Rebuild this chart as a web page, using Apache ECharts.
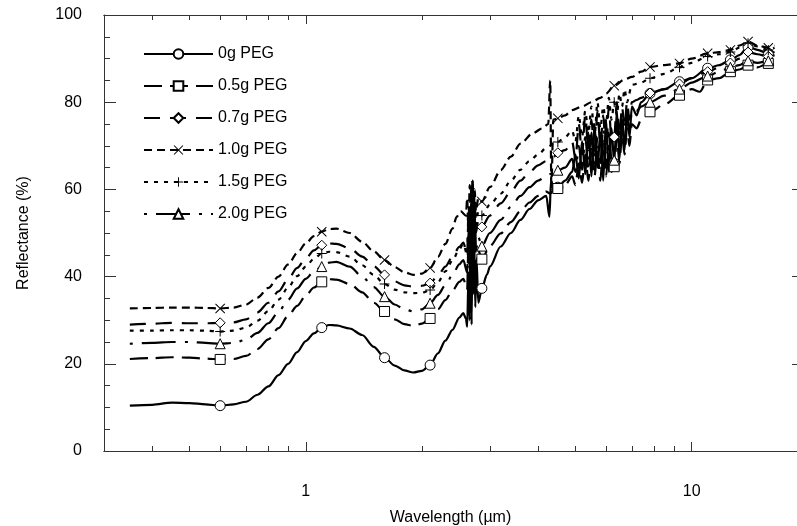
<!DOCTYPE html>
<html lang="en">
<head>
    <meta charset="UTF-8">
    <title>Reflectance vs wavelength</title>
    <style>
        * {
            padding: 0;
            margin: 0;
        }

        #chart {
            width: 797px;
            height: 526px;
            background: #fff;
        }
    </style>
    <script src="https://cdn.jsdelivr.net/npm/echarts@6.0.0/dist/echarts.min.js"></script>
</head>
<body>
<div id="chart"></div>
<script>
    // [wavelength (um), reflectance (%)]
    const peg0 = [[0.35, 10.4], [0.4, 10.6], [0.45, 11.1], [0.5, 11.0], [0.55, 10.7], [0.6, 10.4], [0.65, 10.7], [0.7, 11.3], [0.75, 12.9], [0.8, 14.8], [0.85, 17.4], [0.9, 20.0], [0.95, 22.7], [1.0, 25.2], [1.05, 27.0], [1.1, 28.3], [1.15, 28.9], [1.2, 28.8], [1.3, 28.1], [1.4, 26.6], [1.5, 23.9], [1.6, 21.4], [1.7, 19.6], [1.8, 18.5], [1.9, 18.0], [2.0, 18.4], [2.1, 19.7], [2.2, 22.4], [2.3, 25.3], [2.4, 27.8], [2.5, 30.6], [2.56, 31.6], [2.6, 30.4], [2.62, 28.5], [2.64, 40], [2.66, 30], [2.68, 52], [2.69, 29], [2.71, 56], [2.72, 36], [2.73, 50], [2.75, 33], [2.77, 44], [2.8, 34], [2.86, 37.3], [2.95, 40.5], [3.0, 42.3], [3.2, 46.9], [3.4, 50], [3.6, 53], [3.8, 55.5], [4.0, 57.5], [4.2, 58.5], [4.28, 53.7], [4.32, 62], [4.4, 59.5], [4.5, 60.5], [4.7, 62], [4.9, 64], [5.0, 68], [5.1, 62.5], [5.2, 71], [5.3, 63.5], [5.4, 73], [5.5, 63], [5.6, 75], [5.7, 65], [5.8, 73], [5.9, 62], [6.0, 76], [6.1, 64], [6.2, 74], [6.3, 66], [6.4, 78], [6.5, 67], [6.6, 76], [6.7, 69], [6.8, 78], [6.9, 72], [7.0, 79], [7.2, 77], [7.4, 80], [7.8, 82], [8.5, 83], [9.3, 84.7], [10, 85.5], [11, 87.8], [11.8, 88.5], [12.6, 89.7], [13.3, 90.8], [14, 92.7], [14.8, 92], [15.8, 91.2], [16.4, 91.5]];
    const peg05 = [[0.35, 21.1], [0.4, 21.3], [0.45, 21.5], [0.5, 21.4], [0.55, 21.2], [0.6, 21.0], [0.65, 21.1], [0.7, 21.8], [0.75, 23.4], [0.8, 25.6], [0.85, 28.2], [0.9, 31.0], [0.95, 33.3], [1.0, 35.6], [1.05, 37.5], [1.1, 38.8], [1.15, 39.4], [1.2, 39.3], [1.3, 38.3], [1.4, 36.4], [1.5, 34.0], [1.6, 32.0], [1.7, 30.2], [1.8, 29.1], [1.9, 28.7], [2.0, 29.2], [2.1, 30.4], [2.2, 32.5], [2.3, 34.6], [2.4, 36.8], [2.5, 38.8], [2.56, 39.5], [2.62, 37], [2.64, 48], [2.66, 38], [2.68, 56], [2.69, 39], [2.71, 60], [2.72, 42], [2.74, 55], [2.76, 42], [2.8, 46], [2.86, 44.0], [3.0, 47], [3.2, 49.9], [3.4, 52.5], [3.6, 55], [3.8, 57], [4.0, 58.5], [4.2, 59.5], [4.3, 59], [4.4, 60], [4.5, 60.2], [4.7, 61], [4.9, 63], [5.0, 61], [5.1, 66], [5.2, 61.5], [5.3, 68], [5.4, 62], [5.5, 70], [5.6, 63], [5.7, 69], [5.8, 62], [5.9, 71], [6.0, 63], [6.1, 70], [6.2, 64], [6.3, 65.2], [6.4, 72], [6.5, 66], [6.6, 73], [6.7, 68], [6.8, 74], [6.9, 70], [7.0, 75], [7.2, 74], [7.4, 76], [7.8, 77.8], [8.5, 79.5], [9.3, 81.6], [10, 83], [10.5, 82.4], [11, 85.1], [11.8, 85.5], [12.6, 87.0], [13.3, 87.5], [14, 88.5], [14.8, 88], [15.8, 88.9], [16.4, 88.5]];
    const peg07 = [[0.35, 29.0], [0.4, 29.2], [0.45, 29.4], [0.5, 29.3], [0.55, 29.3], [0.6, 29.4], [0.65, 29.5], [0.7, 30.2], [0.75, 31.8], [0.8, 34.0], [0.85, 36.6], [0.9, 39.4], [0.95, 42.0], [1.0, 44.2], [1.05, 46.0], [1.1, 47.2], [1.15, 47.6], [1.2, 47.5], [1.3, 46.5], [1.4, 44.6], [1.5, 42.4], [1.6, 40.4], [1.7, 38.9], [1.8, 38.0], [1.9, 37.7], [2.0, 37.9], [2.1, 38.5], [2.2, 40.2], [2.3, 42.3], [2.4, 44.6], [2.5, 46.8], [2.56, 47.8], [2.62, 45], [2.64, 55], [2.66, 46], [2.68, 60], [2.69, 47], [2.71, 62], [2.72, 49], [2.74, 58], [2.76, 50], [2.8, 53], [2.86, 51.4], [3.0, 54], [3.2, 56.8], [3.4, 59.5], [3.6, 62], [3.8, 64], [4.0, 65.5], [4.2, 66.5], [4.3, 67], [4.4, 67.5], [4.5, 68.4], [4.7, 69], [4.9, 71], [5.0, 67], [5.1, 75], [5.2, 68], [5.3, 77], [5.4, 69], [5.5, 76], [5.6, 67], [5.7, 78], [5.8, 70], [5.9, 77], [6.0, 68], [6.1, 79], [6.2, 71], [6.3, 72], [6.4, 80], [6.5, 72], [6.6, 79], [6.7, 74], [6.8, 80], [6.9, 76], [7.0, 80], [7.2, 80.5], [7.4, 81], [7.8, 82.1], [8.5, 83], [9.3, 84.2], [10, 85.5], [11, 87], [11.8, 88], [12.6, 89], [13.3, 90], [14, 91.5], [14.8, 91], [15.8, 90.5], [16.4, 90.8]];
    const peg10 = [[0.35, 32.7], [0.4, 32.8], [0.45, 32.9], [0.5, 32.9], [0.55, 32.8], [0.6, 32.7], [0.65, 32.9], [0.7, 33.6], [0.75, 35.2], [0.8, 37.4], [0.85, 40.0], [0.9, 42.8], [0.95, 45.4], [1.0, 47.6], [1.05, 49.3], [1.1, 50.3], [1.15, 50.9], [1.2, 51.0], [1.3, 50.0], [1.4, 48.0], [1.5, 45.8], [1.6, 43.8], [1.7, 42.2], [1.8, 41.0], [1.9, 40.4], [2.0, 40.7], [2.1, 42.0], [2.2, 44.5], [2.3, 47.5], [2.4, 51], [2.46, 53.7], [2.52, 55], [2.6, 54], [2.62, 58], [2.64, 50], [2.66, 61], [2.68, 50], [2.7, 62], [2.72, 52], [2.74, 60], [2.76, 55], [2.8, 58], [2.86, 57.2], [3.0, 60.5], [3.2, 64.4], [3.4, 67.5], [3.6, 70.5], [3.88, 72.9], [4.1, 74], [4.25, 75], [4.3, 85], [4.33, 60], [4.38, 76], [4.5, 76.3], [4.7, 77], [4.9, 78.2], [5.2, 79], [5.5, 80], [5.8, 81], [6.0, 82], [6.3, 83.8], [6.7, 85.2], [7.0, 85.8], [7.4, 87], [7.8, 88.1], [8.5, 88.5], [9.3, 88.9], [10, 90], [11, 91.2], [11.8, 91.5], [12.6, 92.0], [13.3, 93], [14, 93.9], [14.8, 93], [15.8, 92.5], [16.4, 93]];
    const peg15 = [[0.35, 27.6], [0.4, 27.6], [0.45, 27.7], [0.5, 27.7], [0.55, 27.6], [0.6, 27.4], [0.65, 27.6], [0.7, 28.3], [0.75, 29.9], [0.8, 32.1], [0.85, 34.7], [0.9, 37.5], [0.95, 40.1], [1.0, 42.3], [1.05, 44.1], [1.1, 45.3], [1.15, 45.7], [1.2, 45.6], [1.3, 44.6], [1.4, 42.6], [1.5, 40.4], [1.6, 38.3], [1.7, 37.0], [1.8, 36.4], [1.9, 36.2], [2.0, 36.3], [2.1, 36.9], [2.2, 38.7], [2.3, 41.2], [2.4, 43.7], [2.5, 46.3], [2.56, 47.5], [2.62, 45], [2.64, 54], [2.66, 46], [2.68, 59], [2.69, 47], [2.71, 61], [2.72, 50], [2.74, 57], [2.76, 52], [2.8, 55], [2.86, 54], [3.0, 56.5], [3.2, 59], [3.4, 62], [3.6, 64.5], [3.8, 66.5], [4.0, 68], [4.2, 69.5], [4.3, 70], [4.4, 70.5], [4.5, 70.9], [4.7, 72], [4.9, 73.5], [5.0, 71], [5.1, 77], [5.2, 72], [5.3, 78], [5.4, 73], [5.5, 79], [5.6, 72], [5.7, 80], [5.8, 74], [5.9, 79], [6.0, 75], [6.1, 81], [6.2, 76], [6.3, 80], [6.4, 77], [6.5, 82], [6.6, 79], [6.7, 83], [6.8, 80], [7.0, 84], [7.4, 84.5], [7.8, 85.5], [8.5, 86.5], [9.3, 88], [10, 89], [11, 90.5], [11.8, 91], [12.6, 91.5], [13.3, 92.5], [14, 93.5], [14.8, 92.8], [15.8, 92], [16.4, 92.5]];
    const peg20 = [[0.35, 24.6], [0.4, 24.8], [0.45, 25.0], [0.5, 25.0], [0.55, 24.8], [0.6, 24.6], [0.65, 24.8], [0.7, 25.5], [0.75, 27.1], [0.8, 29.3], [0.85, 31.9], [0.9, 34.7], [0.95, 37.3], [1.0, 39.5], [1.05, 41.2], [1.1, 42.3], [1.15, 43.2], [1.2, 43.4], [1.3, 42.3], [1.4, 40.0], [1.5, 37.6], [1.6, 35.4], [1.7, 33.6], [1.8, 32.5], [1.9, 32.0], [2.0, 32.5], [2.1, 33.9], [2.2, 35.8], [2.3, 38.0], [2.4, 40.4], [2.5, 42.8], [2.56, 43.8], [2.62, 41], [2.64, 50], [2.66, 42], [2.68, 56], [2.69, 43], [2.71, 59], [2.72, 46], [2.74, 54], [2.76, 46], [2.8, 49], [2.86, 47], [3.0, 50], [3.2, 53], [3.4, 56], [3.6, 58.5], [3.8, 60.5], [4.0, 62], [4.2, 63], [4.3, 63.5], [4.4, 64], [4.5, 64.4], [4.7, 65], [4.9, 67], [5.0, 64], [5.1, 70], [5.2, 64.5], [5.3, 72], [5.4, 65], [5.5, 73], [5.6, 64], [5.7, 72], [5.8, 66], [5.9, 74], [6.0, 65], [6.1, 73], [6.2, 67], [6.3, 66.7], [6.4, 75], [6.5, 69], [6.6, 76], [6.7, 71], [6.8, 77], [6.9, 73], [7.0, 78], [7.2, 78], [7.4, 79], [7.8, 80], [8.5, 81.5], [9.3, 83], [10, 84.5], [11, 86], [11.8, 87], [12.6, 88], [13.3, 88.5], [14, 89.5], [14.8, 89], [15.8, 89.5], [16.4, 89.5]];

    // wavelengths where the markers sit
    const markerAt = [0.6, 1.1, 1.6, 2.1, 2.86, 4.5, 6.3, 7.8, 9.3, 11, 12.6, 14, 15.8];
    const names = ['0g PEG', '0.5g PEG', '0.7g PEG', '1.0g PEG', '1.5g PEG', '2.0g PEG'];
    const minorX = [0.4, 0.5, 0.6, 0.7, 0.8, 0.9, 2, 3, 4, 5, 6, 7, 8, 9];
    const majorX = [1, 10];

    const font = 'Liberation Sans, Arial, sans-serif';
    const crossPath = 'path://M0,0.7L0.7,0L5,4.3L9.3,0L10,0.7L5.7,5L10,9.3L9.3,10L5,5.7L0.7,10L0,9.3L4.3,5Z';
    const plusPath = 'path://M0,4.5H10V5.5H0Z M4.5,0H5.5V10H4.5Z';

    // hollow markers: white fill + thin black border, so the legend copy stays thin too
    const hollow = {color: '#fff', borderColor: '#000', borderWidth: 1};
    const solid = {color: '#000', borderWidth: 0};
    const styles = [
        {data: peg0, symbol: 'circle', item: hollow, dash: 'solid'},
        {data: peg05, symbol: 'rect', item: hollow, dash: [18, 8]},
        {data: peg07, symbol: 'diamond', item: hollow, dash: [16, 10]},
        {data: peg10, symbol: crossPath, item: solid, dash: [8, 5]},
        {data: peg15, symbol: plusPath, item: solid, dash: [4, 6]},
        {data: peg20, symbol: 'triangle', item: hollow, dash: [3, 9, 34, 9]}
    ];

    function points(pairs) {
        return pairs.map(p => markerAt.includes(p[0]) ? {value: p} : {value: p, symbol: 'none'});
    }

    function xAxisOf(pos, ticks, len, extra) {
        return Object.assign({
            type: 'log',
            logBase: 10,
            position: pos,
            min: 0.3,
            max: 18.75,
            splitLine: {show: false},
            axisLine: {lineStyle: {color: '#333', width: 1}},
            axisTick: {inside: true, length: len, customValues: ticks, lineStyle: {color: '#333'}},
            axisLabel: {show: false}
        }, extra || {});
    }

    let chart = echarts.init(document.getElementById('chart'));
    let option = {
        animation: false,
        backgroundColor: '#fff',
        grid: {left: 104, right: 0, top: 15, bottom: 75, outerBoundsMode: 'none'},
        legend: {
            orient: 'vertical',
            left: 138,
            top: 41,
            itemWidth: 69,
            itemHeight: 12,
            itemGap: 16,
            textStyle: {fontSize: 16, color: '#000', fontFamily: font},
            data: names
        },
        xAxis: [
            xAxisOf('bottom', minorX, 5),
            xAxisOf('bottom', majorX, 9, {
                axisLabel: {show: true, customValues: majorX, margin: 33, fontSize: 16, color: '#000', fontFamily: font},
                name: 'Wavelength (\u00b5m)',
                nameLocation: 'middle',
                nameGap: 59,
                nameTextStyle: {fontSize: 16, color: '#000', fontFamily: font}
            }),
            xAxisOf('top', minorX, 5),
            xAxisOf('top', majorX, 9)
        ],
        yAxis: [
            {
                type: 'value',
                position: 'left',
                min: 0,
                max: 100,
                interval: 20,
                splitLine: {show: false},
                axisLine: {show: true, lineStyle: {color: '#333', width: 1}},
                axisTick: {inside: true, length: 12, lineStyle: {color: '#333'}},
                minorTick: {show: true, splitNumber: 4, length: 6, lineStyle: {color: '#333'}},
                axisLabel: {margin: 22, fontSize: 16, color: '#000', fontFamily: font},
                name: 'Reflectance (%)',
                nameLocation: 'middle',
                nameGap: 72,
                nameTextStyle: {fontSize: 16, color: '#000', fontFamily: font}
            },
            {
                type: 'value',
                position: 'right',
                min: 0,
                max: 100,
                interval: 20,
                splitLine: {show: false},
                axisLine: {show: true, lineStyle: {color: '#333', width: 1}},
                axisTick: {inside: true, length: 5, lineStyle: {color: '#333'}},
                axisLabel: {show: false}
            }
        ],
        series: styles.map((s, i) => ({
            name: names[i],
            type: 'line',
            xAxisIndex: 0,
            yAxisIndex: 0,
            data: points(s.data),
            symbol: s.symbol,
            symbolSize: 10,
            showSymbol: true,
            showAllSymbol: true,
            smooth: 0.3,
            smoothMonotone: 'x',
            itemStyle: s.item,
            lineStyle: {color: '#000', width: 2.2, type: s.dash}
        }))
    };
    chart.setOption(option);
</script>
</body>
</html>
